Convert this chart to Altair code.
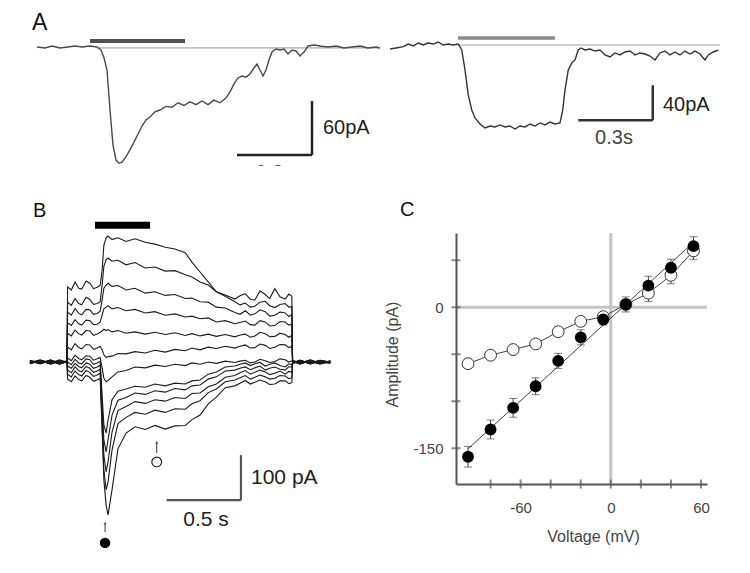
import altair as alt
import pandas as pd

FONT = "Liberation Sans"

# ---------------- Panel A, left trace (time in s, current in pA) ----------------
A1_time = [-0.212, -0.18, -0.152, -0.12, -0.088, -0.06, -0.032, 0, 0.028, 0.044,
           0.056, 0.068, 0.08, 0.092, 0.104, 0.116, 0.128, 0.144, 0.16, 0.176,
           0.192, 0.208, 0.224, 0.24, 0.26, 0.28, 0.304, 0.328, 0.352, 0.376,
           0.4, 0.424, 0.448, 0.472, 0.496, 0.52, 0.544, 0.56, 0.576, 0.592,
           0.608, 0.624, 0.64, 0.656, 0.668, 0.68, 0.692, 0.704, 0.716, 0.728,
           0.744, 0.76, 0.776, 0.792, 0.808, 0.824, 0.84, 0.856, 0.872, 0.896,
           0.92, 0.952, 0.984, 1.016, 1.048, 1.08, 1.112, 1.144, 1.16]
A1_current = [0, -1.1, 1.1, -1.1, 0, 1.1, 0, 1.1, 0, -3.3,
              -12, -25.6, -70, -109, -125.6, -129, -128, -122, -114, -105.6,
              -96.7, -87.8, -81, -77.8, -72, -70, -66, -67, -62, -65,
              -61, -64, -60, -64, -59, -62, -56.7, -50, -41, -34.4,
              -32.2, -33.5, -30, -23.3, -18.9, -25.6, -32.2, -25.6, -14.4, -5.6,
              -2.2, -3.3, -2.2, -7.8, -3.3, -4.4, -10, -5.6, 1.1, 2.2,
              1.1, 0, 1.1, -1.1, 0, 1.1, -1.1, 0, -1.1]

# ---------------- Panel A, right trace ----------------
A2_time = [-0.272, -0.248, -0.219, -0.199, -0.179, -0.159, -0.139, -0.119, -0.099, -0.079,
           -0.059, -0.039, -0.019, 0.001, 0.015, 0.028, 0.041, 0.055, 0.068, 0.088,
           0.108, 0.128, 0.148, 0.168, 0.188, 0.208, 0.228, 0.248, 0.268, 0.288,
           0.308, 0.328, 0.348, 0.368, 0.388, 0.408, 0.419, 0.428, 0.441, 0.455,
           0.468, 0.481, 0.491, 0.508, 0.528, 0.548, 0.568, 0.588, 0.608, 0.628,
           0.648, 0.668, 0.688, 0.708, 0.728, 0.748, 0.768, 0.788, 0.808, 0.828,
           0.848, 0.868, 0.888, 0.908, 0.928, 0.948, 0.968, 0.988, 1.001, 1.021,
           1.041]
A2_current = [-4.6, -3.4, -1.9, 1.1, -1.1, 2.3, 0, 2.3, 1.1, 3.4,
              0, 1.1, 0, 1.1, -5.7, -28.6, -57.1, -74.3, -83.4, -90.3,
              -94.9, -92.6, -93.7, -91.4, -93.7, -92.6, -96, -92.6, -93.7, -90.3,
              -92.6, -89.1, -91.4, -88, -90.3, -89.1, -74.3, -51.4, -28.6, -20.6,
              -17.1, -5.7, -3.4, -5.7, -4.6, -6.9, -5.7, -11.4, -13.7, -9.1,
              -11.4, -8, -6.9, -11.4, -9.1, -10.3, -12.6, -17.1, -9.1, -6.9,
              -11.4, -8, -11.4, -6.9, -10.3, -6.9, -10.3, -17.1, -11.4, -8,
              -5.7]

# ---------------- Panel B: family of current traces (time s, current pA) ----------------
B_time = [-0.44, -0.37, -0.30, -0.24, -0.19,
          -0.185, -0.16, -0.135, -0.11, -0.09, -0.06, -0.035, -0.01, 0.015, 0.035,
          0.048, 0.06, 0.075, 0.088, 0.115, 0.155, 0.21, 0.27, 0.34, 0.405,
          0.475, 0.54, 0.61, 0.655, 0.71, 0.765, 0.82, 0.88, 0.945,
          0.98, 1.015, 1.05, 1.08, 1.115, 1.15, 1.18, 1.215, 1.25, 1.285, 1.31, 1.33,
          1.335, 1.385, 1.455, 1.52, 1.59]
B_traces = [
    [3, -4, 5, -2, 1,
     167, 160, 178, 164, 162, 180, 175, 163, 166, 170,
     204, 260, 276, 280, 272, 276, 268, 274, 266, 262, 255, 251, 243, 222, 200, 178, 156, 149, 140,
     147, 152, 139, 138, 158, 150, 141, 163, 145, 140, 151, 146,
     2, -5, 4, -3, 1],
    [-3, 4, -2, 5, 0,
     133, 126, 141, 130, 127, 144, 139, 128, 130, 134,
     171, 213, 227, 231, 224, 226, 216, 221, 209, 211, 202, 203, 194, 189, 178, 171, 156, 146, 134,
     127, 131, 122, 124, 133, 135, 125, 121, 128, 130, 122, 123,
     -2, 4, -4, 3, 0],
    [2, -3, 4, -4, 1,
     111, 104, 119, 108, 105, 117, 116, 106, 108, 113,
     138, 164, 171, 175, 168, 170, 160, 164, 153, 156, 148, 150, 141, 142, 134, 133, 122, 120, 110,
     106, 114, 104, 107, 116, 112, 102, 104, 111, 109, 101, 105,
     3, -2, 5, -3, -1],
    [-2, 3, -5, 2, 0,
     87, 81, 94, 85, 82, 93, 92, 83, 84, 89,
     104, 118, 122, 125, 118, 121, 114, 117, 109, 112, 104, 107, 100, 102, 96, 98, 89, 92, 85,
     88, 91, 83, 82, 92, 89, 80, 81, 90, 89, 82, 84,
     -3, 3, -2, 4, 0],
    [4, -2, 3, -5, 1,
     64, 58, 71, 63, 60, 70, 69, 59, 62, 66,
     69, 73, 70, 72, 67, 70, 64, 67, 62, 66, 61, 65, 59, 63, 58, 62, 57, 61, 56,
     60, 62, 55, 58, 66, 63, 56, 57, 64, 61, 55, 59,
     1, -4, 3, -2, 2],
    [-1, 5, -3, 2, -2,
     33, 27, 41, 32, 29, 39, 38, 28, 31, 35,
     27, 16, 10, 12, 13, 19, 18, 23, 20, 26, 22, 28, 25, 31, 27, 33, 30, 35, 31,
     35, 38, 31, 32, 40, 37, 30, 33, 39, 38, 32, 35,
     -2, 2, -3, 4, -1],
    [2, -3, 1, -4, 3,
     9, 3, 15, 8, 5, 14, 13, 4, 7, 10,
     -13, -36, -44, -41, -33, -22, -19, -11, -13, -7, -10, -5, -8, -2, -5, 0, -3, 2, -1,
     2, 4, -2, 0, 6, 3, -1, 1, 7, 5, 0, 3,
     4, -3, 2, -4, 1],
    [-4, 2, -1, 3, -2,
     0, -6, 6, -2, -4, 7, 5, -5, -2, 2,
     -73, -140, -158, -129, -84, -65, -60, -54, -56, -49, -53, -47, -49, -42, -40, -27, -22, -11, -9,
     -5, -2, -8, -4, -1, -9, -5, -2, -8, -11, -4, -6,
     -1, 3, -4, 2, -3],
    [1, -2, 4, -3, 2,
     -9, -14, -3, -10, -13, -2, -5, -14, -11, -7,
     -96, -173, -200, -173, -118, -85, -79, -69, -72, -64, -67, -59, -62, -53, -51, -38, -33, -20, -18,
     -14, -11, -17, -13, -9, -18, -14, -11, -16, -18, -10, -12,
     2, -3, 1, -5, 3],
    [-3, 4, -2, 1, -1,
     -18, -24, -11, -19, -22, -10, -14, -23, -20, -16,
     -118, -207, -244, -222, -156, -108, -99, -88, -92, -84, -87, -79, -81, -70, -69, -55, -49, -34, -30,
     -24, -19, -27, -23, -18, -22, -28, -25, -20, -27, -21, -23,
     -3, 2, -1, 3, -2],
    [2, -1, 3, -4, 0,
     -27, -33, -20, -28, -31, -19, -23, -32, -29, -25,
     -140, -240, -284, -267, -196, -137, -123, -112, -116, -107, -112, -104, -105, -93, -86, -68, -60, -44, -40,
     -35, -30, -38, -34, -29, -33, -38, -36, -30, -31, -37, -35,
     1, -2, 4, -3, 2],
    [-2, 3, -4, 2, -1,
     -38, -44, -31, -39, -42, -30, -34, -43, -40, -36,
     -151, -262, -318, -340, -284, -193, -158, -144, -150, -141, -149, -142, -141, -128, -118, -93, -78, -57, -53,
     -47, -41, -49, -45, -40, -44, -50, -49, -42, -42, -48, -46,
     -2, 3, -3, 2, 0],
]

# ---------------- Panel C: I-V relation ----------------
C_voltage = [-95, -80, -65, -50, -35, -20, -5, 10, 25, 40, 55]
C_peak = [-159, -130, -107, -84, -57, -32, -13, 3, 23, 42, 65]
C_peak_sem = [11, 10, 10, 9, 8, 8, 6, 8, 10, 9, 10]
C_plateau = [-60, -51, -45, -39, -26, -15, -10, 3, 15, 34, 60]
C_plateau_sem = [4, 4, 4, 4, 4, 4, 4, 5, 9, 9, 9]
C_xticks = [-80, -60, -40, -20, 0, 20, 40, 60]
C_xlabels = [-60, 0, 60]
C_yticks = [-150, -100, -50, 0, 50]
C_ylabels = [-150, 0]

assert len(A1_time) == len(A1_current)
assert len(A2_time) == len(A2_current)
assert all(len(tr) == len(B_time) for tr in B_traces)


def sc(dom):
    return alt.Scale(domain=dom, nice=False, zero=False)


def X(field, s, axis=None):
    return alt.X(field, type="quantitative", scale=s, axis=axis)


def Y(field, s, axis=None):
    return alt.Y(field, type="quantitative", scale=s, axis=axis)


def seg(xs, x2s, ys, y2s):
    return pd.DataFrame({"t": xs, "t2": x2s, "i": ys, "i2": y2s})


def label(df, sx, sy, **kw):
    return alt.Chart(df).mark_text(font=FONT, **kw).encode(
        x=X("t", sx), y=Y("i", sy), text="label:N")


# ---------------- Panel A left ----------------
sxA1 = sc([-0.328, 1.464])
syA1 = sc([-132.2, 43.33])
A1 = alt.layer(
    alt.Chart(seg([0.028], [1.16], [-1.0], [-1.0])).mark_rule(color="#c2c2c2", strokeWidth=1.6)
    .encode(x=X("t", sxA1), x2="t2", y=Y("i", syA1), y2="i2"),
    alt.Chart(seg([0.0], [0.38], [6.7], [6.7])).mark_rule(color="#505050", strokeWidth=4)
    .encode(x=X("t", sxA1), x2="t2", y=Y("i", syA1), y2="i2"),
    alt.Chart(pd.DataFrame({"t": A1_time, "i": A1_current}))
    .mark_line(color="#4a4a4a", strokeWidth=1.4)
    .encode(x=X("t", sxA1), y=Y("i", syA1)),
    alt.Chart(seg([0.888, 0.588], [0.888, 0.888], [-60, -120], [-120, -120]))
    .mark_rule(color="#222222", strokeWidth=2.5)
    .encode(x=X("t", sxA1), x2="t2", y=Y("i", syA1), y2="i2"),
    label(pd.DataFrame({"t": [0.932], "i": [-90.0], "label": ["60pA"]}), sxA1, syA1,
          align="left", baseline="middle", fontSize=20, color="#222222"),
    label(pd.DataFrame({"t": [0.738], "i": [-140.0], "label": ["0.3s"]}), sxA1, syA1,
          align="center", baseline="middle", fontSize=20, color="#555555", clip=True),
    label(pd.DataFrame({"t": [-0.232], "i": [27.0], "label": ["A"]}), sxA1, syA1,
          align="left", baseline="middle", fontSize=23, color="#111111"),
).properties(width=448, height=158)

# ---------------- Panel A right ----------------
sxA2 = sc([-0.008, 1.104])
syA2 = sc([-214.9, 42.29])
A2 = alt.layer(
    alt.Chart(seg([0.0], [1.048], [0.0], [0.0])).mark_rule(color="#c2c2c2", strokeWidth=1.6)
    .encode(x=X("t", sxA2), x2="t2", y=Y("i", syA2), y2="i2"),
    alt.Chart(seg([0.0], [0.388], [8.0], [8.0])).mark_rule(color="#8a8a8a", strokeWidth=3.5)
    .encode(x=X("t", sxA2), x2="t2", y=Y("i", syA2), y2="i2"),
    alt.Chart(pd.DataFrame({"t": A2_time, "i": A2_current}))
    .mark_line(color="#333333", strokeWidth=1.4)
    .encode(x=X("t", sxA2), y=Y("i", syA2)),
    alt.Chart(seg([0.779, 0.481], [0.779, 0.779], [-46, -86], [-86, -86]))
    .mark_rule(color="#333333", strokeWidth=2.5)
    .encode(x=X("t", sxA2), x2="t2", y=Y("i", syA2), y2="i2"),
    label(pd.DataFrame({"t": [0.82], "i": [-68.6], "label": ["40pA"]}), sxA2, syA2,
          align="left", baseline="middle", fontSize=20, color="#222222"),
    label(pd.DataFrame({"t": [0.624], "i": [-106.0], "label": ["0.3s"]}), sxA2, syA2,
          align="center", baseline="middle", fontSize=20, color="#444444"),
).properties(width=278, height=225)

# ---------------- Panel B ----------------
sxB = sc([-0.5878, 2.439])
syB = sc([-428.9, 286.7])
B_rows = []
for k, tr in enumerate(B_traces):
    for t, v in zip(B_time, tr):
        B_rows.append({"trace": k, "t": t, "i": v})
B_df = pd.DataFrame(B_rows)

B = alt.layer(
    alt.Chart(B_df).mark_line(color="#1a1a1a", strokeWidth=1.1)
    .encode(x=X("t", sxB), y=Y("i", syB), detail="trace:N"),
    alt.Chart(seg([0.0], [0.372], [304.0], [304.0])).mark_rule(color="#000000", strokeWidth=7)
    .encode(x=X("t", sxB), x2="t2", y=Y("i", syB), y2="i2"),
    alt.Chart(seg([0.986, 0.484], [0.986, 0.986], [-207, -307], [-307, -307]))
    .mark_rule(color="#555555", strokeWidth=2.2)
    .encode(x=X("t", sxB), x2="t2", y=Y("i", syB), y2="i2"),
    # small arrows pointing at the peak and plateau measurement points
    alt.Chart(seg([0.068, 0.417], [0.068, 0.417], [-358, -178], [-378, -202]))
    .mark_rule(color="#333333", strokeWidth=1)
    .encode(x=X("t", sxB), x2="t2", y=Y("i", syB), y2="i2"),
    alt.Chart(pd.DataFrame({"t": [0.068, 0.417], "i": [-358, -178]}))
    .mark_point(shape="triangle-up", size=10, filled=True, color="#333333")
    .encode(x=X("t", sxB), y=Y("i", syB)),
    alt.Chart(pd.DataFrame({"t": [0.068], "i": [-402.0]}))
    .mark_point(shape="circle", size=110, filled=True, color="#000000", opacity=1)
    .encode(x=X("t", sxB), y=Y("i", syB)),
    alt.Chart(pd.DataFrame({"t": [0.417], "i": [-222.0]}))
    .mark_point(shape="circle", size=95, filled=False, color="#222222", strokeWidth=1.2,
                fill="#ffffff", opacity=1)
    .encode(x=X("t", sxB), y=Y("i", syB)),
    label(pd.DataFrame({"t": [1.054], "i": [-258.0], "label": ["100 pA"]}), sxB, syB,
          align="left", baseline="middle", fontSize=21, color="#222222"),
    label(pd.DataFrame({"t": [0.75], "i": [-351.0], "label": ["0.5 s"]}), sxB, syB,
          align="center", baseline="middle", fontSize=21, color="#222222"),
    label(pd.DataFrame({"t": [-0.419], "i": [335.6], "label": ["B"]}), sxB, syB,
          align="left", baseline="middle", fontSize=20, color="#111111"),
).properties(width=448, height=322)

# ---------------- Panel C ----------------
sxC = sc([-103, 64])
syC = sc([-188, 79])
axis_common = dict(grid=False, ticks=False, tickSize=0, domainColor="#555555", domainWidth=2,
                   labelFont=FONT, labelFontSize=15, labelColor="#444444", labelFlush=False,
                   labelExpr="'' + datum.value", titleFont=FONT, titleFontSize=16,
                   titleFontWeight="normal", titleColor="#444444", zindex=1)
ax_x = alt.Axis(values=C_xlabels, labelPadding=16, title="Voltage (mV)", titleX=137,
                titleY=52, titleBaseline="middle", titleAlign="center", **axis_common)
ax_y = alt.Axis(values=C_ylabels, labelPadding=13, title="Amplitude (pA)", titleX=-64,
                titleY=121, titleBaseline="middle", titleAlign="center", titleAngle=270,
                **axis_common)

C_df = pd.DataFrame({
    "V": C_voltage,
    "peak": C_peak,
    "plateau": C_plateau,
})
C_df["peak_lo"] = C_df["peak"] - pd.Series(C_peak_sem)
C_df["peak_hi"] = C_df["peak"] + pd.Series(C_peak_sem)
C_df["plat_lo"] = C_df["plateau"] - pd.Series(C_plateau_sem)
C_df["plat_hi"] = C_df["plateau"] + pd.Series(C_plateau_sem)

baseC = alt.Chart(C_df)
C = alt.layer(
    alt.Chart(pd.DataFrame({"a": [0]})).mark_rule(color="#c4c4c4", strokeWidth=3)
    .encode(y=Y("a", syC, ax_y)),
    alt.Chart(pd.DataFrame({"V": [0]})).mark_rule(color="#c4c4c4", strokeWidth=3)
    .encode(x=X("V", sxC, ax_x)),
    baseC.transform_regression("V", "peak").mark_line(color="#444444", strokeWidth=1)
    .encode(x=X("V", sxC, ax_x), y=Y("peak", syC, ax_y)),
    baseC.mark_line(color="#444444", strokeWidth=1)
    .encode(x=X("V", sxC, ax_x), y=Y("plateau", syC, ax_y)),
    baseC.mark_rule(color="#444444", strokeWidth=1)
    .encode(x=X("V", sxC, ax_x), y=Y("plat_lo", syC, ax_y), y2="plat_hi"),
    baseC.mark_rule(color="#444444", strokeWidth=1)
    .encode(x=X("V", sxC, ax_x), y=Y("peak_lo", syC, ax_y), y2="peak_hi"),
    baseC.mark_tick(orient="horizontal", size=8, thickness=1, color="#444444")
    .encode(x=X("V", sxC, ax_x), y=Y("peak_lo", syC, ax_y)),
    baseC.mark_tick(orient="horizontal", size=8, thickness=1, color="#444444")
    .encode(x=X("V", sxC, ax_x), y=Y("peak_hi", syC, ax_y)),
    baseC.mark_tick(orient="horizontal", size=8, thickness=1, color="#444444")
    .encode(x=X("V", sxC, ax_x), y=Y("plat_lo", syC, ax_y)),
    baseC.mark_tick(orient="horizontal", size=8, thickness=1, color="#444444")
    .encode(x=X("V", sxC, ax_x), y=Y("plat_hi", syC, ax_y)),
    baseC.mark_point(shape="circle", size=140, filled=False, fill="#ffffff", color="#333333",
                     strokeWidth=1, opacity=1)
    .encode(x=X("V", sxC, ax_x), y=Y("plateau", syC, ax_y)),
    baseC.mark_point(shape="circle", size=140, filled=True, color="#000000", opacity=1)
    .encode(x=X("V", sxC, ax_x), y=Y("peak", syC, ax_y)),
    alt.Chart(pd.DataFrame({"V": C_xticks, "a": [-188] * len(C_xticks)}))
    .mark_tick(orient="vertical", size=9, thickness=2, color="#555555")
    .encode(x=X("V", sxC, ax_x), y=Y("a", syC, ax_y)),
    alt.Chart(pd.DataFrame({"V": [-103] * len(C_yticks), "a": C_yticks}))
    .mark_tick(orient="horizontal", size=9, thickness=2, color="#555555")
    .encode(x=X("V", sxC, ax_x), y=Y("a", syC, ax_y)),
    alt.Chart(pd.DataFrame({"V": [-140.3], "a": [103.5], "label": ["C"]}))
    .mark_text(font=FONT, fontSize=20, align="left", baseline="middle", color="#111111")
    .encode(x=X("V", sxC, ax_x), y=Y("a", syC, ax_y), text="label:N"),
).properties(width=251, height=251)

chart = (
    alt.concat(A1, A2, B, C, columns=2, spacing=0, bounds="flush")
    .properties(padding=0)
    .configure(font=FONT)
    .configure_view(stroke=None)
)

chart.save("out.html", embed_options={"renderer": "svg", "actions": False})
